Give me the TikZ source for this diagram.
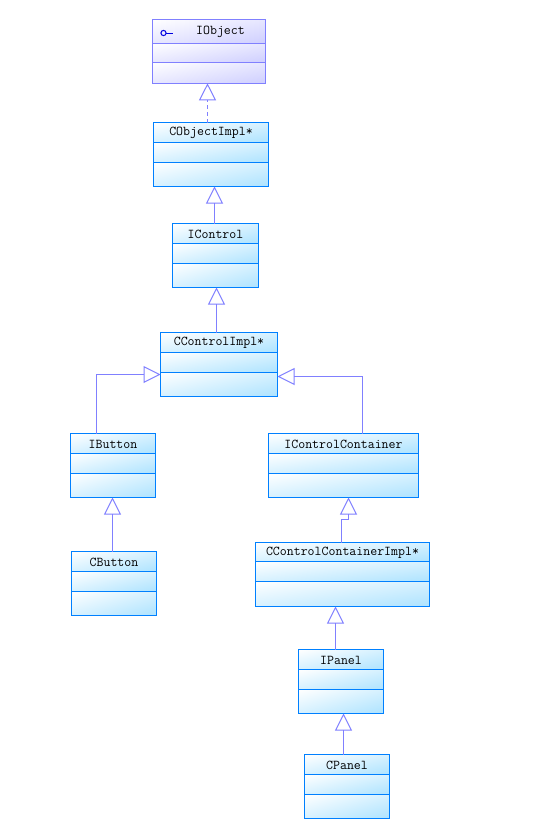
\documentclass[tikz,border=0pt]{standalone}
\usepackage{fontspec}
\usetikzlibrary{arrows.meta}
\definecolor{ifborder}{HTML}{8080FF}
\definecolor{clsborder}{HTML}{0080FF}
\definecolor{icon}{HTML}{0000E0}
\pgfdeclarefunctionalshading{clsdiag}{\pgfpoint{-50bp}{-50bp}}{\pgfpoint{50bp}{50bp}}{}{
  exch 25 add exch 25 sub neg add 100 div
  dup dup
  0.322 mul 1 exch sub 3 1 roll
  0.11 mul 1 exch sub exch
  0 mul 1 exch sub
}
\pgfdeclarefunctionalshading{ifdiag}{\pgfpoint{-50bp}{-50bp}}{\pgfpoint{50bp}{50bp}}{}{
  exch 25 add exch 25 sub neg add 100 div
  dup dup
  0.19 mul 1 exch sub 3 1 roll
  0.19 mul 1 exch sub exch
  0 mul 1 exch sub
}
\tikzset{
  gen/.style={draw=ifborder,line width=1pt,-{Triangle[open,length=17pt,width=17pt]}},
  genlabel/.style={inner sep=0pt,font=\ttfamily\fontsize{13.5}{14}\selectfont,text=black},
  boxline/.style={line width=1pt},
  shell/.style={rectangle,draw,line width=1pt,inner sep=0pt,outer sep=0pt}
}
% border colour, shading, name, x1, x2, ytop, line1, line2, label
\newcommand{\umlclass}[9]{%
  \pgfmathsetmacro{\cxa}{(#4+#5)/2}%
  \pgfmathsetmacro{\cya}{#6+32}%
  \pgfmathsetmacro{\wda}{#5-#4}%
  \pgfmathsetmacro{\ybot}{#6+64}%
  \shade[shading=#2] (#4,#6) rectangle (#5,#7);
  \shade[shading=#2] (#4,#7) rectangle (#5,#8);
  \shade[shading=#2] (#4,#8) rectangle (#5,\ybot);
  \draw[boxline,#1] (#4,#7) -- (#5,#7);
  \draw[boxline,#1] (#4,#8) -- (#5,#8);
  \node[shell,draw=#1,minimum width=\wda pt,minimum height=64pt] (#3) at (\cxa,\cya) {};
  \pgfmathsetmacro{\ylab}{(#6+#7)/2+0.5}%
  \node[genlabel] (#3-label) at (\cxa,\ylab) {#9};
}
\begin{document}
\begin{tikzpicture}[x=1pt,y=-1pt]
\useasboundingbox (0,0) rectangle (554,838);
\fill[white] (0,0) rectangle (554,838);
\umlclass{ifborder}{ifdiag}{iobject}{152.5}{265.5}{19.3}{43.3}{62.3}{}
\node[genlabel] (iobject-name) at (220.5,32) {IObject};
\draw[icon,line width=1pt] (163.5,33) circle (2.6pt);
\draw[icon,line width=1pt] (166.1,33) -- (173,33);
\umlclass{clsborder}{clsdiag}{cobjimpl}{153.5}{268.5}{122.5}{142.5}{162.5}{CObjectImpl*}
\umlclass{clsborder}{clsdiag}{icontrol}{172.5}{258.5}{223.5}{243.5}{263.5}{IControl}
\umlclass{clsborder}{clsdiag}{cctrlimpl}{160.5}{277.5}{332.5}{352.5}{372.5}{CControlImpl*}
\umlclass{clsborder}{clsdiag}{ibutton}{70.5}{155.5}{433.5}{453.5}{473.5}{IButton}
\umlclass{clsborder}{clsdiag}{cbutton}{71.5}{156.5}{551.5}{571.5}{591.5}{CButton}
\umlclass{clsborder}{clsdiag}{icc}{268.5}{418.5}{433.5}{453.5}{473.5}{IControlContainer}
\umlclass{clsborder}{clsdiag}{cccimpl}{255.5}{429.5}{542.5}{561.5}{581.5}{CControlContainerImpl*}
\umlclass{clsborder}{clsdiag}{ipanel}{298.5}{383.5}{649.5}{669.5}{689.5}{IPanel}
\umlclass{clsborder}{clsdiag}{cpanel}{304.5}{389.5}{754.5}{774.5}{794.5}{CPanel}
% connectors
\draw[gen,dash pattern=on 4pt off 3pt] ([xshift=-3.5pt]cobjimpl.north) -- ([xshift=-1.5pt]iobject.south);
\draw[gen] ([xshift=-1pt]icontrol.north) -- ([xshift=3.5pt]cobjimpl.south);
\draw[gen] ([xshift=-2.5pt]cctrlimpl.north) -- ([xshift=1pt]icontrol.south);
\draw[gen] ([xshift=-16.5pt]ibutton.north) |- ([yshift=-10pt]cctrlimpl.west);
\draw[gen] ([xshift=19pt]icc.north) |- ([yshift=-12pt]cctrlimpl.east);
\draw[gen] ([xshift=-1.5pt]cbutton.north) -- ([xshift=-.5pt]ibutton.south);
\coordinate (ccelbow) at (345,519.5);
\draw[gen] ([xshift=-1pt]cccimpl.north) |- (ccelbow) -| ([xshift=5pt]icc.south);
\draw[gen] ([xshift=-5.5pt]ipanel.north) -- ([xshift=-7pt]cccimpl.south);
\draw[gen] ([xshift=-3.5pt]cpanel.north) -- ([xshift=2.5pt]ipanel.south);
\end{tikzpicture}
\end{document}
